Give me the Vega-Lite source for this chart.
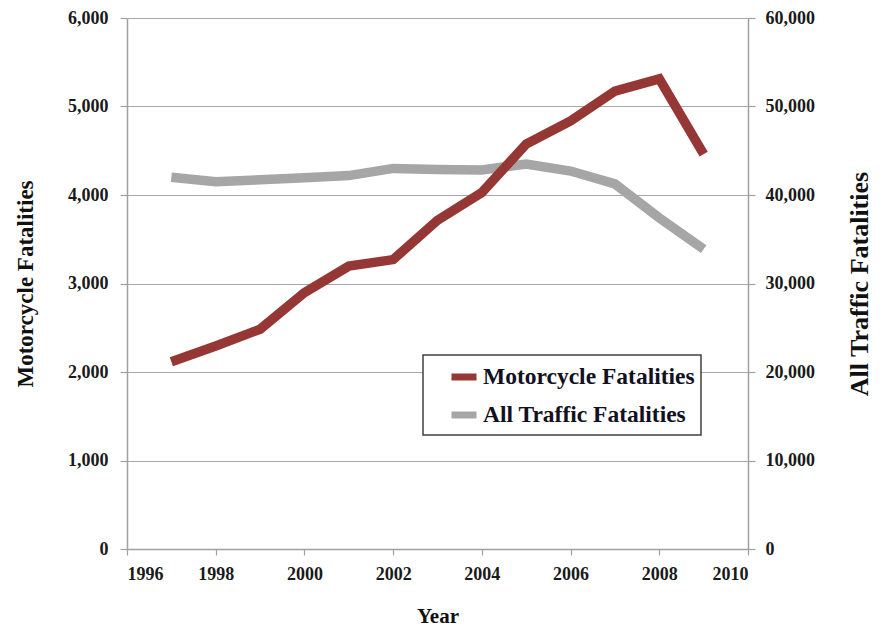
{
  "$schema": "https://vega.github.io/schema/vega-lite/v6.json",
  "width": 621,
  "height": 531,
  "autosize": {"type": "none"},
  "padding": {"left": 127, "top": 18, "right": 141, "bottom": 78},
  "background": "white",
  "config": {
    "view": {"stroke": null},
    "font": "Liberation Serif",
    "axis": {
      "labelFont": "Liberation Serif",
      "titleFont": "Liberation Serif",
      "labelFontWeight": "bold",
      "titleFontWeight": "bold",
      "labelColor": "#1a1a1a",
      "titleColor": "#111111",
      "labelFontSize": 18,
      "titleFontSize": 21,
      "domainColor": "#a0a0a0",
      "tickColor": "#a0a0a0",
      "gridColor": "#a8a8a8",
      "domainWidth": 1.5,
      "tickWidth": 1.2,
      "gridWidth": 1.2
    }
  },
  "data": {
    "values": [
      {"year": 1997, "moto": 2116, "all": 42013},
      {"year": 1998, "moto": 2294, "all": 41501},
      {"year": 1999, "moto": 2483, "all": 41717},
      {"year": 2000, "moto": 2897, "all": 41945},
      {"year": 2001, "moto": 3197, "all": 42196},
      {"year": 2002, "moto": 3270, "all": 43005},
      {"year": 2003, "moto": 3714, "all": 42884},
      {"year": 2004, "moto": 4028, "all": 42836},
      {"year": 2005, "moto": 4576, "all": 43510},
      {"year": 2006, "moto": 4837, "all": 42708},
      {"year": 2007, "moto": 5174, "all": 41259},
      {"year": 2008, "moto": 5312, "all": 37423},
      {"year": 2009, "moto": 4462, "all": 33883}
    ]
  },
  "encoding": {
    "x": {
      "field": "year",
      "type": "quantitative",
      "scale": {"domain": [1996, 2010], "nice": false, "zero": false},
      "axis": {
        "title": "Year",
        "values": [1996, 1998, 2000, 2002, 2004, 2006, 2008, 2010],
        "format": "d",
        "grid": false,
        "tickSize": 6,
        "labelPadding": 10,
        "titlePadding": 22
      }
    }
  },
  "layer": [
    {
      "mark": {"type": "line", "strokeWidth": 9.5, "strokeCap": "butt", "strokeJoin": "miter"},
      "encoding": {
        "y": {
          "field": "all",
          "type": "quantitative",
          "scale": {"domain": [0, 60000], "nice": false},
          "axis": {
            "orient": "right",
            "title": "All  Traffic Fatalities",
            "titleAngle": 270,
            "titleFontSize": 26,
            "values": [0, 10000, 20000, 30000, 40000, 50000, 60000],
            "format": ",d",
            "grid": false,
            "tickSize": 7,
            "labelPadding": 10,
            "titlePadding": 58
          }
        },
        "color": {
          "datum": "All Traffic Fatalities",
          "type": "nominal",
          "scale": {
            "domain": ["Motorcycle Fatalities", "All Traffic Fatalities"],
            "range": ["#953735", "#a6a6a6"]
          },
          "legend": {
            "orient": "none",
            "legendX": 296,
            "legendY": 337,
            "title": null,
            "direction": "vertical",
            "fillColor": "white",
            "strokeColor": "#404040",
            "padding": 6,
            "symbolOffset": 19,
            "symbolType": "stroke",
            "symbolStrokeWidth": 7,
            "symbolSize": 625,
            "labelFont": "Liberation Serif",
            "labelFontWeight": "bold",
            "labelFontSize": 23.5,
            "labelColor": "#111122",
            "rowPadding": 8,
            "labelLimit": 400,
            "labelOffset": 3,
            "encode": {"legend": {"update": {"strokeWidth": {"value": 1.5}}}}
          }
        }
      }
    },
    {
      "mark": {"type": "line", "strokeWidth": 9.5, "strokeCap": "butt", "strokeJoin": "miter"},
      "encoding": {
        "y": {
          "field": "moto",
          "type": "quantitative",
          "scale": {"domain": [0, 6000], "nice": false},
          "axis": {
            "orient": "left",
            "title": "Motorcycle Fatalities",
            "titleFontSize": 23,
            "values": [0, 1000, 2000, 3000, 4000, 5000, 6000],
            "format": ",d",
            "grid": true,
            "tickSize": 7,
            "labelPadding": 12,
            "titlePadding": 30
          }
        },
        "color": {
          "datum": "Motorcycle Fatalities",
          "type": "nominal"
        }
      }
    }
  ],
  "resolve": {"scale": {"y": "independent"}}
}
